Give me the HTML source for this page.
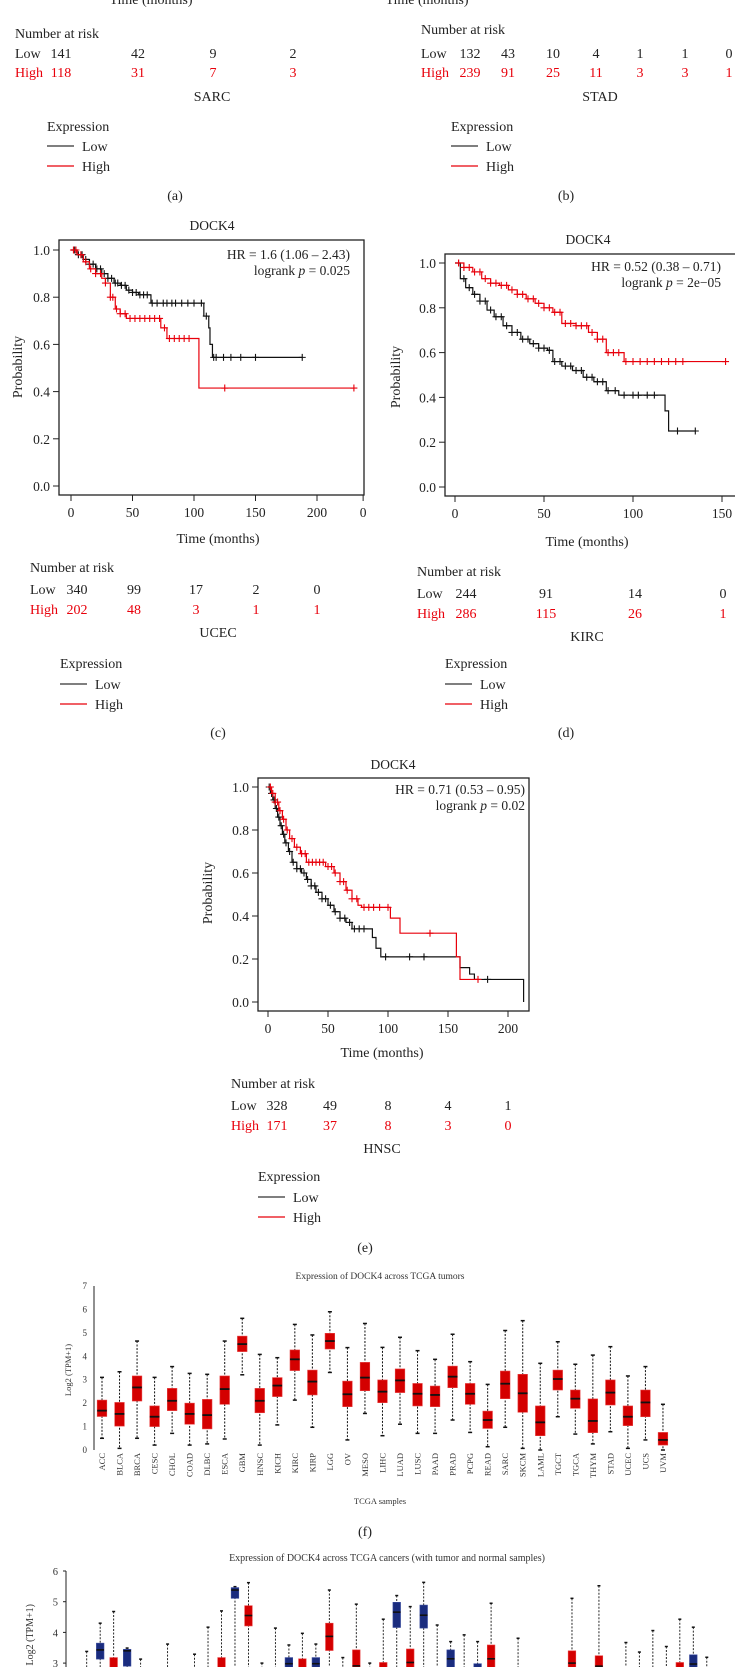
<!DOCTYPE html>
<html><head><meta charset="utf-8"><style>
html,body{margin:0;padding:0;background:#fff;}
svg{display:block;font-family:"Liberation Serif",serif;}
</style></head><body>
<svg id="fig" width="735" height="1667" viewBox="0 0 735 1667" xmlns="http://www.w3.org/2000/svg">
<g id="static" fill="#222" font-size="14">
 <text x="151" y="4" text-anchor="middle">Time (months)</text>
 <text x="15" y="38">Number at risk</text>
 <text x="15" y="58">Low</text>
 <text x="61" y="58" text-anchor="middle">141</text><text x="138" y="58" text-anchor="middle">42</text><text x="213" y="58" text-anchor="middle">9</text><text x="293" y="58" text-anchor="middle">2</text>
 <g fill="#e8000b"><text x="15" y="77">High</text>
 <text x="61" y="77" text-anchor="middle">118</text><text x="138" y="77" text-anchor="middle">31</text><text x="213" y="77" text-anchor="middle">7</text><text x="293" y="77" text-anchor="middle">3</text></g>
 <text x="212" y="101" text-anchor="middle">SARC</text>
 <text x="47" y="131">Expression</text>
 <line x1="47" y1="146" x2="74" y2="146" stroke="#333" stroke-width="1.3"/><text x="82" y="151">Low</text>
 <line x1="47" y1="166" x2="74" y2="166" stroke="#e8000b" stroke-width="1.3"/><text x="82" y="171">High</text>
 <text x="175" y="200" text-anchor="middle">(a)</text>
 <text x="427" y="4" text-anchor="middle">Time (months)</text>
 <text x="421" y="34">Number at risk</text>
 <text x="421" y="58">Low</text>
 <text x="470" y="58" text-anchor="middle">132</text><text x="508" y="58" text-anchor="middle">43</text><text x="553" y="58" text-anchor="middle">10</text><text x="596" y="58" text-anchor="middle">4</text><text x="640" y="58" text-anchor="middle">1</text><text x="685" y="58" text-anchor="middle">1</text><text x="729" y="58" text-anchor="middle">0</text>
 <g fill="#e8000b"><text x="421" y="77">High</text>
 <text x="470" y="77" text-anchor="middle">239</text><text x="508" y="77" text-anchor="middle">91</text><text x="553" y="77" text-anchor="middle">25</text><text x="596" y="77" text-anchor="middle">11</text><text x="640" y="77" text-anchor="middle">3</text><text x="685" y="77" text-anchor="middle">3</text><text x="729" y="77" text-anchor="middle">1</text></g>
 <text x="600" y="101" text-anchor="middle">STAD</text>
 <text x="451" y="131">Expression</text>
 <line x1="451" y1="146" x2="478" y2="146" stroke="#333" stroke-width="1.3"/><text x="486" y="151">Low</text>
 <line x1="451" y1="166" x2="478" y2="166" stroke="#e8000b" stroke-width="1.3"/><text x="486" y="171">High</text>
 <text x="566" y="200" text-anchor="middle">(b)</text>
</g>
<g id="charts"></g>
</svg>
<script>
const ucecLowT=[5,10,15,20,25,30,35,40,45,50,55,65,108,112,113,115];
const ucecLowS=[0.98,0.96,0.94,0.92,0.9,0.88,0.86,0.85,0.83,0.82,0.81,0.775,0.72,0.67,0.6,0.545];
const ucecLowC=[3,6,9,12,15,18,21,24,27,30,33,36,38,41,44,47,50,53,56,59,62,66,70,75,78,82,85,90,95,100,106,110,116,118,124,130,138,150,188];
const ucecHighT=[5,10,15,20,25,28,32,36,40,45,73,78,104];
const ucecHighS=[0.98,0.95,0.92,0.9,0.88,0.86,0.8,0.75,0.73,0.71,0.67,0.625,0.415];
const ucecHighC=[2,4,8,12,16,20,24,28,32,34,37,40,44,48,52,56,60,64,68,72,76,80,84,88,92,96,125,230];
const kircHighT=[5,10,15,20,25,30,35,40,45,50,55,60,68,75,80,85,95];
const kircHighS=[0.98,0.96,0.93,0.91,0.9,0.88,0.86,0.84,0.82,0.8,0.78,0.73,0.72,0.69,0.66,0.6,0.56];
const kircHighC=[2,5,8,11,14,17,20,23,26,29,32,35,38,41,44,47,50,53,56,59,62,65,68,71,74,77,80,83,86,89,92,96,100,104,108,112,116,120,124,128,152];
const kircLowT=[3,6,10,14,18,22,27,32,37,42,47,52,55,60,66,72,78,85,92,118,120];
const kircLowS=[0.93,0.89,0.86,0.83,0.79,0.76,0.72,0.69,0.66,0.64,0.62,0.61,0.56,0.54,0.52,0.49,0.47,0.43,0.41,0.34,0.25];
const kircLowC=[2,5,8,11,14,17,20,23,26,29,32,35,38,41,44,47,50,53,56,59,62,65,68,71,74,77,80,83,86,90,95,100,103,108,112,125,135];
const hnscHighT=[3,6,9,12,15,18,22,27,32,48,55,60,65,70,75,78,102,110,157,160];
const hnscHighS=[0.97,0.93,0.89,0.85,0.8,0.76,0.72,0.69,0.65,0.63,0.6,0.56,0.52,0.48,0.45,0.44,0.39,0.32,0.21,0.105];
const hnscHighC=[2,4,6,8,10,13,16,20,24,28,31,34,37,40,43,46,50,53,56,60,63,66,70,74,80,84,88,93,100,135,175];
const hnscLowT=[2,4,6,8,10,12,14,17,20,24,28,32,36,40,45,50,55,60,65,70,87,90,94,160,168,172,213];
const hnscLowS=[0.97,0.94,0.9,0.86,0.82,0.78,0.74,0.7,0.65,0.62,0.6,0.57,0.54,0.51,0.48,0.45,0.42,0.39,0.37,0.34,0.3,0.25,0.21,0.16,0.13,0.105,0];
const hnscLowC=[1,3,5,7,9,11,13,15,18,21,24,27,30,33,36,39,42,45,48,52,56,60,64,68,72,76,80,98,118,130,183];

const fCats=["ACC","BLCA","BRCA","CESC","CHOL","COAD","DLBC","ESCA","GBM","HNSC","KICH","KIRC","KIRP","LGG","OV","MESO","LIHC","LUAD","LUSC","PAAD","PRAD","PCPG","READ","SARC","SKCM","LAML","TGCT","TGCA","THYM","STAD","UCEC","UCS","UVM"];
const fMed=[1.68,1.54,2.67,1.42,2.1,1.54,1.49,2.6,4.52,2.1,2.75,3.87,2.92,4.65,2.38,3.09,2.49,2.97,2.4,2.35,3.13,2.4,1.28,2.83,2.42,1.18,3.03,2.19,1.24,2.45,1.42,2.03,0.43];
const fQ3=[2.13,2.03,3.16,1.88,2.63,2.0,2.16,3.16,4.86,2.63,3.09,4.27,3.41,4.98,2.94,3.74,2.99,3.46,2.84,2.73,3.58,2.84,1.66,3.37,3.23,1.88,3.41,2.56,2.18,2.99,1.88,2.56,0.75];
const fQ1=[1.43,1.02,2.09,1.0,1.68,1.1,0.9,1.95,4.2,1.59,2.28,3.39,2.35,4.31,1.85,2.53,2.02,2.45,1.88,1.85,2.66,1.95,0.92,2.19,1.61,0.61,2.56,1.78,0.74,1.92,1.04,1.42,0.21];
const fHi=[3.1,3.34,4.65,3.1,3.56,3.27,3.23,4.65,5.62,4.08,3.94,5.36,4.91,5.9,4.37,5.4,4.38,4.81,4.24,3.87,4.94,3.77,2.8,5.1,5.52,3.7,4.62,3.66,4.05,4.41,3.16,3.56,1.95];
const fLo=[0.5,0.07,0.5,0.21,0.71,0.21,0.26,0.47,3.21,0.21,1.07,2.13,0.97,3.31,0.43,1.56,0.61,1.1,0.71,0.71,1.28,0.75,0.14,0.97,0.07,0,1.42,0.68,0.26,0.78,0.07,0.43,0];
const fTicks=[0,1,2,3,4,5,6,7];

const gSlot=[0,1,2,3,4,6,8,9,10,11,12,13,14,15,16,17,18,19,20,21,22,23,24,25,26,27,28,29,30,32,36,38,40,41,42,43,44,45,46];
const gType=["t","n","t","n","t","t","t","t","t","n","t","t","t","n","t","n","t","t","t","t","t","n","t","n","t","n","t","n","t","t","t","t","t","t","t","t","t","n","t"];
const gHi=[3.38,4.30,4.68,3.49,3.13,3.62,3.29,4.17,4.70,5.49,5.62,3.0,4.14,3.59,3.97,3.62,5.38,3.18,4.92,3.0,4.43,5.2,4.84,5.63,4.24,3.70,3.92,3.70,4.95,3.81,5.11,5.52,3.67,3.36,4.06,3.54,4.43,4.17,3.19];
const gQ3=[2.8,3.65,3.18,3.45,2.7,2.7,2.7,2.7,3.18,5.46,4.87,2.7,2.7,3.18,3.14,3.18,4.30,2.8,3.43,2.7,3.02,4.98,3.46,4.89,2.7,3.43,2.7,2.98,3.59,2.7,3.40,3.24,2.7,2.7,2.7,2.7,3.02,3.27,2.7];
const gMed=[2.5,3.43,2.8,3.40,2.4,2.4,2.4,2.4,2.8,5.38,4.55,2.4,2.4,2.98,2.8,2.98,3.87,2.5,2.91,2.4,2.7,4.66,3.02,4.56,2.4,3.14,2.4,2.6,3.14,2.4,3.0,2.9,2.4,2.4,2.4,2.4,2.7,2.97,2.4];
const gQ1=[2.2,3.13,2.5,2.9,2.1,2.1,2.1,2.1,2.5,5.11,4.21,2.1,2.1,2.7,2.5,2.7,3.41,2.2,2.5,2.1,2.4,4.16,2.7,4.14,2.1,2.8,2.1,2.3,2.8,2.1,2.6,2.5,2.1,2.1,2.1,2.1,2.4,2.6,2.1];
const gTicks=[3,4,5,6];

const NS="http://www.w3.org/2000/svg";
const root=document.getElementById('charts');
function mk(tag,attrs,parent){const e=document.createElementNS(NS,tag);for(const k in attrs)e.setAttribute(k,attrs[k]);(parent||root).appendChild(e);return e;}
function txt(x,y,s,attrs,parent){const t=mk('text',Object.assign({x:x,y:y},attrs||{}),parent);t.textContent=s;return t;}
function stepPath(T,S,end,sx,sy){let d='M'+sx(0)+','+sy(1);for(let i=0;i<T.length;i++){d+=' H'+sx(T[i])+' V'+sy(S[i]);}d+=' H'+sx(end);return d;}
function survAt(T,S,t){let p=1;for(let i=0;i<T.length;i++){if(T[i]<=t)p=S[i];}return p;}

function kmPanel(o){
  const g=mk('g',{});
  
  
  const sx=m=>o.x0+m*o.kx, sy=p=>o.y0-p*o.ky;
  txt(o.titleX,o.titleY,'DOCK4',{'text-anchor':'middle','font-size':13.5,fill:'#222'},g);
  const fr=mk('rect',{x:o.fx,y:o.fy,width:o.fw,height:o.fh,fill:'none',stroke:'#222','stroke-width':1.3},g);
  
  
  [0,0.2,0.4,0.6,0.8,1.0].forEach(v=>{
    mk('line',{x1:o.fx-6,x2:o.fx,y1:sy(v),y2:sy(v),stroke:'#222'},g);
    const t=txt(o.fx-9,sy(v)+5,v.toFixed(1),{'text-anchor':'end','font-size':13.5,fill:'#222'},g);
    
    
  });
  o.xt.forEach((v,i)=>{
    const x=sx(v);
    if(x<=735){mk('line',{x1:x,x2:x,y1:o.fy+o.fh,y2:o.fy+o.fh+6,stroke:'#222'},g);}
    const lbl=o.xl?o.xl[i]:String(v);
    const t=txt(x,o.fy+o.fh+22,lbl,{'text-anchor':'middle','font-size':13.5,fill:'#222'},g);
    
    
  });
  const yl=txt(0,0,'Probability',{'text-anchor':'middle','font-size':14,fill:'#222',transform:'translate('+o.ylx+','+o.yly+') rotate(-90)'},g);
  
  
  txt(o.fx+o.fw-(o.hrPad||14),o.hrY,o.hr,{'text-anchor':'end','font-size':13.5,fill:'#222'},g);
  const lr=txt(o.fx+o.fw-(o.hrPad||14),o.hrY+16,'',{'text-anchor':'end','font-size':13.5,fill:'#222'},g);
  const t1=mk('tspan',{},lr);t1.textContent='logrank ';
  const t2=mk('tspan',{'font-style':'italic'},lr);t2.textContent='p';
  const t3=mk('tspan',{},lr);t3.textContent=' = '+o.p;
  const clip=mk('clipPath',{id:o.name+'-clip'},g);
  mk('rect',{x:o.fx,y:o.fy,width:o.fw,height:o.fh},clip);
  const cg=mk('g',{'clip-path':'url(#'+o.name+'-clip)'},g);
  [['low',o.lowT,o.lowS,o.lowC,o.lowEnd,'#111'],['high',o.highT,o.highS,o.highC,o.highEnd,'#e8000b']].forEach(s=>{
    const pth=mk('path',{d:stepPath(s[1],s[2],s[4],sx,sy),fill:'none',stroke:s[5],'stroke-width':1.2},cg);
    
    
    s[3].forEach(c=>{
      const x=sx(c),y=sy(survAt(s[1],s[2],c));
      const cm=mk('path',{d:'M'+(x-3.5)+','+y+'h7M'+x+','+(y-3.5)+'v7',stroke:s[5],'stroke-width':1.1},cg);
      
      
    });
  });
  const rg=mk('g',{'font-size':14,fill:'#222'},g);
  txt(o.rx,o.ry,'Number at risk',{},rg);
  txt(o.rx,o.ry+22,'Low',{},rg);
  txt(o.rx,o.ry+42,'High',{fill:'#e8000b'},rg);
  o.rLow.forEach((v,i)=>txt(o.rcol[i],o.ry+22,v,{'text-anchor':'middle'},rg));
  o.rHigh.forEach((v,i)=>txt(o.rcol[i],o.ry+42,v,{'text-anchor':'middle',fill:'#e8000b'},rg));
  txt(o.xtitleX,o.xtitleY,'Time (months)',{'text-anchor':'middle','font-size':14,fill:'#222'},g);
  txt(o.xtitleX,o.ry+65,o.cancer,{'text-anchor':'middle','font-size':14,fill:'#222'},g);
  txt(o.ex,o.ey,'Expression',{'font-size':14,fill:'#222'},g);
  mk('line',{x1:o.ex,x2:o.ex+27,y1:o.ey+16,y2:o.ey+16,stroke:'#333','stroke-width':1.3},g);
  txt(o.ex+35,o.ey+21,'Low',{'font-size':14,fill:'#222'},g);
  mk('line',{x1:o.ex,x2:o.ex+27,y1:o.ey+36,y2:o.ey+36,stroke:'#e8000b','stroke-width':1.3},g);
  txt(o.ex+35,o.ey+41,'High',{'font-size':14,fill:'#222'},g);
  txt(o.lx,o.ly,o.label,{'text-anchor':'middle','font-size':14,fill:'#222'},g);
}

kmPanel({name:'km-ucec',x0:71,kx:1.23,y0:486,ky:236,fx:59,fy:240,fw:305,fh:255,titleX:212,titleY:230,
 xt:[0,50,100,150,200,237.5],xl:['0','50','100','150','200','0'],ylx:22,yly:367,hr:'HR = 1.6 (1.06 \u2013 2.43)',p:'0.025',hrY:259,hrPad:14,
 lowT:ucecLowT,lowS:ucecLowS,lowC:ucecLowC,lowEnd:188,highT:ucecHighT,highS:ucecHighS,highC:ucecHighC,highEnd:230,
 rx:30,ry:572,rcol:[77,134,196,256,317],rLow:['340','99','17','2','0'],rHigh:['202','48','3','1','1'],
 xtitleX:218,xtitleY:543,cancer:'UCEC',ex:60,ey:668,lx:218,ly:737,label:'(c)'});
kmPanel({name:'km-kirc',x0:455,kx:1.78,y0:487,ky:224,fx:445,fy:254,fw:300,fh:242,titleX:588,titleY:244,
 xt:[0,50,100,150],ylx:400,yly:377,hr:'HR = 0.52 (0.38 \u2013 0.71)',p:'2e\u221205',hrY:271,hrPad:24,
 lowT:kircLowT,lowS:kircLowS,lowC:kircLowC,lowEnd:135,highT:kircHighT,highS:kircHighS,highC:kircHighC,highEnd:152,
 rx:417,ry:576,rcol:[466,546,635,723],rLow:['244','91','14','0'],rHigh:['286','115','26','1'],
 xtitleX:587,xtitleY:546,cancer:'KIRC',ex:445,ey:668,lx:566,ly:737,label:'(d)'});
kmPanel({name:'km-hnsc',x0:268,kx:1.2,y0:1002,ky:215,fx:258,fy:778,fw:271,fh:233,titleX:393,titleY:769,
 xt:[0,50,100,150,200],ylx:212,yly:893,hr:'HR = 0.71 (0.53 \u2013 0.95)',p:'0.02',hrY:794,hrPad:4,
 lowT:hnscLowT,lowS:hnscLowS,lowC:hnscLowC,lowEnd:213,highT:hnscHighT,highS:hnscHighS,highC:hnscHighC,highEnd:175,
 rx:231,ry:1088,rcol:[277,330,388,448,508],rLow:['328','49','8','4','1'],rHigh:['171','37','8','3','0'],
 xtitleX:382,xtitleY:1057,cancer:'HNSC',ex:258,ey:1181,lx:365,ly:1252,label:'(e)'});

(function(){
  const g=mk('g',{});
  
  
  const fy=v=>1450-v*23.43, fx=i=>102+i*17.53;
  txt(380,1279,'Expression of DOCK4 across TCGA tumors',{'text-anchor':'middle','font-size':9.5,fill:'#333'},g);
  mk('line',{x1:94,x2:94,y1:1286,y2:1450,stroke:'#222','stroke-width':1},g);
  fTicks.forEach(v=>{const t=txt(87,fy(v)+3,String(v),{'text-anchor':'end','font-size':9,fill:'#333'},g);
    
    });
  txt(0,0,'Log2 (TPM+1)',{'text-anchor':'middle','font-size':8.5,fill:'#333',transform:'translate(71,1370) rotate(-90)'},g);
  fCats.forEach((c,i)=>{
    const x=fx(i);
    const w=mk('line',{x1:x,x2:x,y1:fy(fHi[i]),y2:fy(fLo[i]),stroke:'#111','stroke-width':1,'stroke-dasharray':'2,1.5'},g);
    
    
    mk('line',{x1:x-2,x2:x+2,y1:fy(fHi[i]),y2:fy(fHi[i]),stroke:'#111','stroke-width':1.5},g);
    mk('line',{x1:x-2,x2:x+2,y1:fy(fLo[i]),y2:fy(fLo[i]),stroke:'#111','stroke-width':1.5},g);
    const b=mk('rect',{x:x-4.8,y:fy(fQ3[i]),width:9.6,height:fy(fQ1[i])-fy(fQ3[i]),fill:'#d40000',stroke:'#e84040','stroke-width':0.6},g);
    
    
    mk('line',{x1:x-4.8,x2:x+4.8,y1:fy(fMed[i]),y2:fy(fMed[i]),stroke:'#111','stroke-width':1.8},g);
    const t=txt(0,0,c,{'text-anchor':'end','font-size':8.5,fill:'#333',transform:'translate('+(x+3)+',1453) rotate(-90)'},g);
    
    
  });
  txt(380,1504,'TCGA samples',{'text-anchor':'middle','font-size':8.5,fill:'#333'},g);
  txt(365,1536,'(f)',{'text-anchor':'middle','font-size':14,fill:'#222'},g);
})();

(function(){
  const g=mk('g',{});
  
  
  const gy=v=>1571+(6-v)*30.7, gx=s=>86.7+s*13.48;
  txt(387,1561,'Expression of DOCK4 across TCGA cancers (with tumor and normal samples)',{'text-anchor':'middle','font-size':10,fill:'#333'},g);
  mk('line',{x1:66,x2:66,y1:1571,y2:1667,stroke:'#222','stroke-width':1},g);
  gTicks.forEach(v=>{mk('line',{x1:63,x2:66,y1:gy(v),y2:gy(v),stroke:'#222'},g);
    const t=txt(58,gy(v)+4,String(v),{'text-anchor':'end','font-size':10.5,fill:'#333'},g);
    
    });
  txt(0,0,'Log2 (TPM+1)',{'text-anchor':'end','font-size':10,fill:'#333',transform:'translate(33,1604) rotate(-90)'},g);
  gSlot.forEach((s,i)=>{
    const x=gx(s), col=gType[i]==='n'?'#1a2c7e':'#d40000', sc=gType[i]==='n'?'#3a4c9e':'#e84040';
    const w=mk('line',{x1:x,x2:x,y1:gy(gHi[i]),y2:1667,stroke:'#111','stroke-width':0.9,'stroke-dasharray':'2,1.5'},g);
    
    
    mk('line',{x1:x-1.5,x2:x+1.5,y1:gy(gHi[i]),y2:gy(gHi[i]),stroke:'#111','stroke-width':1.5},g);
    const b=mk('rect',{x:x-3.8,y:gy(gQ3[i]),width:7.6,height:gy(gQ1[i])-gy(gQ3[i]),fill:col,stroke:sc,'stroke-width':0.6},g);
    
    
    mk('line',{x1:x-3.8,x2:x+3.8,y1:gy(gMed[i]),y2:gy(gMed[i]),stroke:'#111','stroke-width':1.6},g);
  });
})();
</script>
</body></html>
